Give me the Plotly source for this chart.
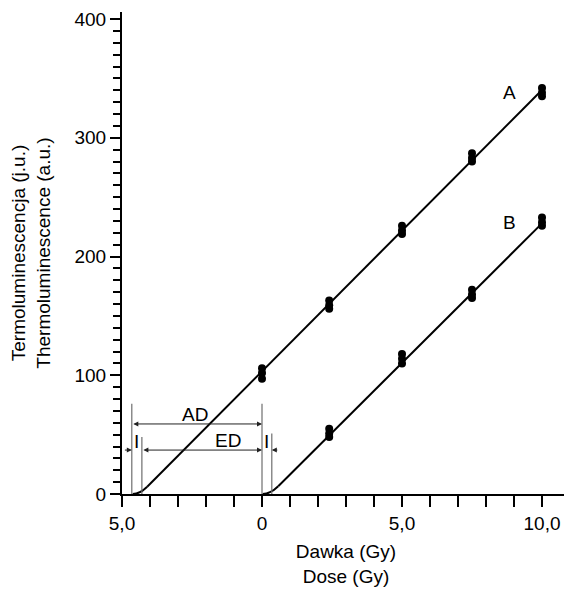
import plotly.graph_objects as go

# ---- data ----
doses_A = [0, 2.4, 5, 7.5, 10]
tl_A = [[97, 102, 106], [156, 159, 163], [219, 222, 226], [280, 283, 287], [335, 338, 342]]
doses_B = [2.4, 5, 7.5, 10]
tl_B = [[48, 51, 55], [110, 114, 118], [165, 168, 172], [226, 229, 233]]

# linear fits (slope, x-intercept) and the curved foot of each line (start dose)
fit_A = (23.7, -4.36)
fit_B = (23.5, 0.30)
foot_A = -4.62
foot_B = 0.02

# AD / ED / I markers
AD_start = -4.65
ED_start = -4.29
I_right = 0.35

x_tickvals = [-5, 0, 5, 10]
x_ticktext = ["5,0", "0", "5,0", "10,0"]
y_tickvals = [0, 100, 200, 300, 400]

FONT = "Liberation Sans, Arial, sans-serif"
FS = 19

fig = go.Figure()


def add_series(doses, vals, fit, foot):
    slope, x0 = fit
    x_end = doses[-1]
    d = x0 - foot
    x_start = x0 + d
    fig.add_trace(go.Scatter(x=[x_start, x_end], y=[slope * (x_start - x0), slope * (x_end - x0)],
                             mode="lines", line=dict(color="black", width=2), showlegend=False,
                             hoverinfo="skip"))
    fig.add_shape(type="path",
                  path=f"M {foot},0 Q {x0},0 {x_start},{slope * (x_start - x0)}",
                  line=dict(color="black", width=2), xref="x", yref="y")
    xs, ys = [], []
    for dd, vv in zip(doses, vals):
        for v in vv:
            xs.append(dd)
            ys.append(v)
    fig.add_trace(go.Scatter(x=xs, y=ys, mode="markers",
                             marker=dict(color="black", size=8), showlegend=False))


add_series(doses_A, tl_A, fit_A, foot_A)
add_series(doses_B, tl_B, fit_B, foot_B)

# vertical guide lines
guide_col = "#6e6e6e"
for xv, top in [(AD_start, 76), (ED_start, 48), (0, 76), (I_right, 51)]:
    fig.add_shape(type="line", x0=xv, x1=xv, y0=0, y1=top, xref="x", yref="y",
                  line=dict(color=guide_col, width=1.2))

arr = dict(showarrow=True, axref="x", ayref="y", xref="x", yref="y", arrowhead=2,
           arrowsize=1, arrowwidth=1, arrowcolor="#222", text="", standoff=0, startstandoff=0)
fig.add_annotation(x=0, y=59, ax=AD_start, ay=59, arrowside="end+start", **arr)
fig.add_annotation(x=0, y=37, ax=ED_start, ay=37, arrowside="end+start", **arr)
fig.add_annotation(x=AD_start, y=37, ax=-4.95, ay=37, **arr)
fig.add_annotation(x=I_right, y=37, ax=0.6, ay=37, **arr)

lab = dict(showarrow=False, xref="x", yref="y", font=dict(family=FONT, size=FS, color="black"))
fig.add_annotation(x=-2.4, y=67, text="AD", **lab)
fig.add_annotation(x=-1.2, y=45, text="ED", **lab)
fig.add_annotation(x=(AD_start + ED_start) / 2, y=44, text="I", **lab)
fig.add_annotation(x=I_right / 2, y=44, text="I", **lab)
fig.add_annotation(x=8.83, y=338, text="A", **lab)
fig.add_annotation(x=8.83, y=229, text="B", **lab)

# page body has an 8px margin: figure is sized/offset to compensate
fig.update_layout(
    width=564, height=582,
    margin=dict(l=114, r=2, t=4, b=96),
    paper_bgcolor="white", plot_bgcolor="white",
    font=dict(family=FONT, size=FS, color="black"),
    xaxis=dict(range=[-5, 11], tickvals=x_tickvals, ticktext=x_ticktext, automargin=False,
               showgrid=False, zeroline=False, showline=True, linecolor="black", linewidth=2,
               ticks="outside", ticklen=11, tickwidth=2, tickcolor="black",
               minor=dict(dtick=1, ticks="outside", ticklen=11, tickwidth=2, tickcolor="black"),
               title=dict(text="Dawka (Gy)<br>Dose (Gy)", font=dict(size=FS), standoff=12),
               tickfont=dict(size=FS)),
    yaxis=dict(range=[0, 406], tickvals=y_tickvals, automargin=False,
               showgrid=False, zeroline=False, showline=True, linecolor="black", linewidth=2,
               ticks="outside", ticklen=10, tickwidth=2, tickcolor="black",
               minor=dict(dtick=10, ticks="outside", ticklen=7, tickwidth=1.5, tickcolor="black"),
               title=dict(text="Termoluminescencja (j.u.)<br>Thermoluminescence (a.u.)",
                          font=dict(size=FS), standoff=20),
               tickfont=dict(size=FS)),
)

fig.write_html("out.html")
